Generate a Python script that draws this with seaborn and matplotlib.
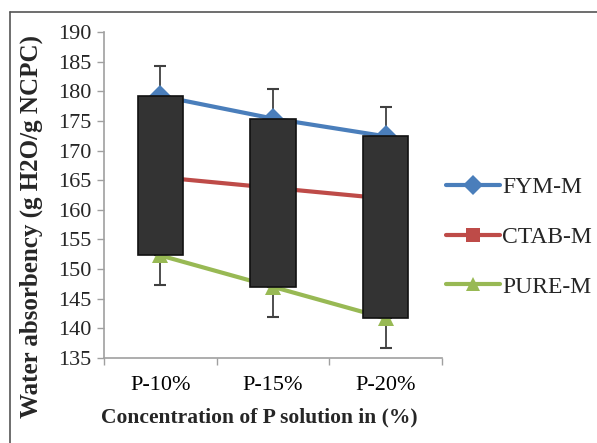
import matplotlib
matplotlib.use("Agg")
import matplotlib.pyplot as plt
import matplotlib.lines as mlines
import seaborn as sns
import pandas as pd
import numpy as np

categories = ["P-10%", "P-15%", "P-20%"]
fym = [179.2, 175.4, 172.4]
ctab = [165.5, 163.7, 161.9]
pure = [152.3, 147.0, 141.7]
fym_err = [5.0, 5.0, 5.0]
pure_err = [5.0, 5.0, 5.0]
series_names = ["FYM-M", "CTAB-M", "PURE-M"]
colors = ["#4A7EBB", "#BE4B48", "#98B954"]
markers = ["D", "s", "^"]

sns.set_theme(style="white")
plt.rcParams["font.family"] = ["Liberation Serif", "DejaVu Serif"]

df = pd.DataFrame({
    "cat": categories * 3,
    "x": list(range(3)) * 3,
    "value": fym + ctab + pure,
    "series": [s for s in series_names for _ in range(3)],
})

fig = plt.figure(figsize=(5.97, 4.43), dpi=100)
ax = fig.add_axes([104 / 597, 1 - 358 / 443, (442 - 104) / 597, (358 - 32) / 443])

sns.lineplot(data=df, x="x", y="value", hue="series", style="series",
             palette=dict(zip(series_names, colors)),
             markers=dict(zip(series_names, markers)), dashes=False,
             markersize=11, linewidth=3, markeredgewidth=0, ax=ax,
             legend=False, zorder=2)

xs = np.arange(3)
# error bars: upward on FYM, downward on PURE
ax.errorbar(xs, fym, yerr=[np.zeros(3), fym_err], fmt="none", ecolor="#404040",
            elinewidth=1.3, capsize=4, capthick=1.5, zorder=1)
ax.errorbar(xs, pure, yerr=[pure_err, np.zeros(3)], fmt="none", ecolor="#404040",
            elinewidth=1.3, capsize=4, capthick=1.5, zorder=1)

# up/down bars from FYM to PURE
heights = np.array(fym) - np.array(pure)
ax.bar(xs, heights, bottom=pure, width=0.4, color="#333333", edgecolor="#111111",
       linewidth=1.2, zorder=3)

ax.set_xlim(-0.5, 2.5)
ax.set_ylim(135, 190)
ax.set_yticks(np.arange(135, 191, 5))
ax.set_xticks(xs)
ax.set_xticklabels(categories)
ax.set_xticks([-0.5, 0.5, 1.5, 2.5], minor=True)
ax.tick_params(axis="x", which="major", length=0, labelsize=16, pad=13, colors="black")
ax.tick_params(axis="x", which="minor", length=5, width=1, color="#a0a0a0", bottom=True)
ax.tick_params(axis="y", which="major", length=5, width=1, color="#a0a0a0", left=True,
               labelsize=16, pad=4)
for s in ["top", "right"]:
    ax.spines[s].set_visible(False)
for s in ["left", "bottom"]:
    ax.spines[s].set_color("#a0a0a0")
    ax.spines[s].set_linewidth(1.2)

ax.set_xlabel("Concentration of P solution in (%)", fontsize=15.5, fontweight="bold")
ax.set_ylabel("Water absorbency (g H2O/g NCPC)", fontsize=18, fontweight="bold")
ax.xaxis.set_label_coords(0.459, -0.153)
ax.yaxis.set_label_coords(-0.18, 0.402)

handles = [mlines.Line2D([], [], color=c, marker=m, markersize=10, linewidth=3,
                         markeredgewidth=0)
           for c, m in zip(colors, markers)]
fig.legend(handles, series_names, loc="center left", bbox_to_anchor=(0.731, 1 - 237 / 443),
           frameon=False, fontsize=17, labelspacing=1.2, handlelength=2.3,
           handletextpad=0.08, borderaxespad=0)

# figure border (top and left)
fig.add_artist(mlines.Line2D([10 / 597, 1.0], [1 - 12 / 443, 1 - 12 / 443],
                             transform=fig.transFigure, color="#555555", linewidth=1.2))
fig.add_artist(mlines.Line2D([10 / 597, 10 / 597], [0, 1 - 12 / 443],
                             transform=fig.transFigure, color="#555555", linewidth=1.2))

fig.savefig("out.png", dpi=100)
